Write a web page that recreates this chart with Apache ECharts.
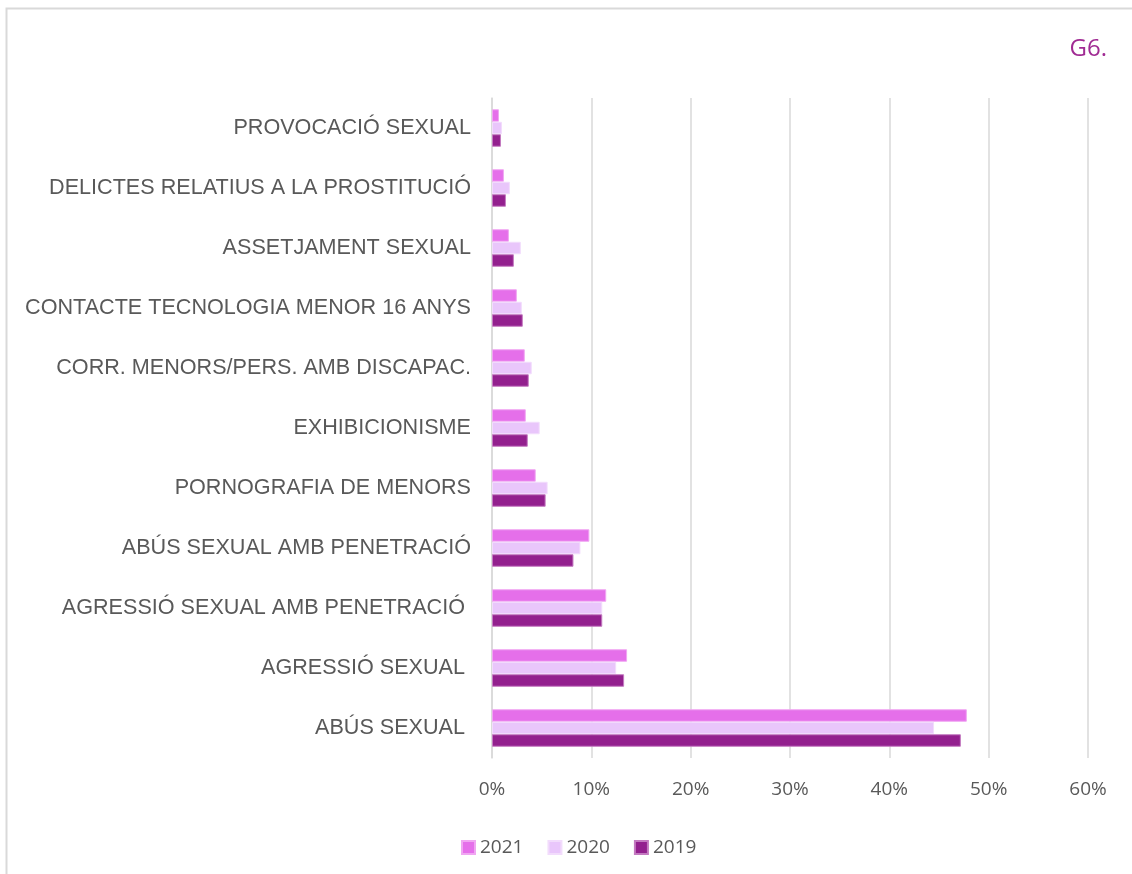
<!DOCTYPE html>
<html>
<head>
<meta charset="utf-8">
<script src="https://cdn.jsdelivr.net/npm/echarts@6/dist/echarts.min.js"></script>
<style>
  html, body { margin: 0; padding: 0; background: #fff; }
  #chart { width: 1132px; height: 874px; }
</style>
</head>
<body>
<div id="chart"></div>
<script>
// categories, top to bottom
var categories = [
  'PROVOCACIÓ SEXUAL',
  'DELICTES RELATIUS A LA PROSTITUCIÓ',
  'ASSETJAMENT SEXUAL',
  'CONTACTE TECNOLOGIA MENOR 16 ANYS',
  'CORR. MENORS/PERS. AMB DISCAPAC.',
  'EXHIBICIONISME',
  'PORNOGRAFIA DE MENORS',
  'ABÚS SEXUAL AMB PENETRACIÓ',
  'AGRESSIÓ SEXUAL AMB PENETRACIÓ ',
  'AGRESSIÓ SEXUAL ',
  'ABÚS SEXUAL '
];
// percentatges
var data2021 = [0.7, 1.2, 1.7, 2.5, 3.3, 3.4, 4.4, 9.8, 11.5, 13.6, 47.8];
var data2020 = [1.0, 1.8, 2.9, 3.0, 4.0, 4.8, 5.6, 8.9, 11.1, 12.5, 44.5];
var data2019 = [0.9, 1.4, 2.2, 3.1, 3.7, 3.6, 5.4, 8.2, 11.1, 13.3, 47.2];
var xTicks = [0, 10, 20, 30, 40, 50, 60];

var chart = echarts.init(document.getElementById('chart'));

var barStyle = function (color, border) {
  return { color: color, borderColor: border, borderWidth: 1 };
};

var option = {
  backgroundColor: '#ffffff',
  animation: false,
  title: {
    text: 'G6.',
    right: 20,
    top: 32,
    textStyle: { color: '#a02b93', fontSize: 24, fontWeight: 'normal', fontFamily: 'Open Sans' }
  },
  graphic: [
    { type: 'polyline', shape: { points: [[6.5, 874], [6.5, 8.5], [1132, 8.5]] },
      style: { stroke: '#d9d9d9', lineWidth: 2, fill: null } }
  ],
  legend: {
    left: 456,
    top: 833,
    itemWidth: 13,
    itemHeight: 13,
    itemGap: 24,
    icon: 'rect',
    textStyle: { color: '#595959', fontSize: 19, fontFamily: 'Open Sans' },
    data: ['2021', '2020', '2019']
  },
  grid: { left: 492, right: 44, top: 98, bottom: 116, containLabel: false },
  xAxis: {
    type: 'value',
    min: 0,
    max: 60,
    interval: 10,
    axisLine: { show: false },
    axisTick: { show: false },
    splitLine: { lineStyle: { color: '#d9d9d9', width: 1.5 } },
    axisLabel: {
      color: '#595959', fontSize: 19, fontFamily: 'Open Sans', margin: 22,
      formatter: function (v) { return xTicks.indexOf(v) >= 0 ? v + '%' : ''; }
    }
  },
  yAxis: {
    type: 'category',
    inverse: true,
    data: categories,
    axisLine: { show: true, lineStyle: { color: '#d9d9d9', width: 1.5 } },
    axisTick: { show: false },
    axisLabel: { color: '#595959', fontSize: 21.6, fontFamily: 'Liberation Sans', margin: 21 }
  },
  series: [
    { name: '2021', type: 'bar', data: data2021, barWidth: 12.5, barGap: '0%',
      itemStyle: barStyle('#e56fea', '#f0a6f2') },
    { name: '2020', type: 'bar', data: data2020, barWidth: 12.5, barGap: '0%',
      itemStyle: barStyle('#e9c6fb', '#f2dcfc') },
    { name: '2019', type: 'bar', data: data2019, barWidth: 12.5, barGap: '0%',
      itemStyle: barStyle('#93208e', '#c37ac0') }
  ]
};

chart.setOption(option);
</script>
</body>
</html>
